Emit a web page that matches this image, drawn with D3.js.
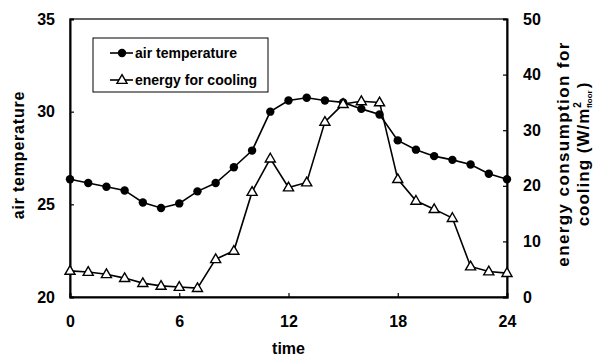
<!DOCTYPE html>
<html>
<head>
<meta charset="utf-8">
<script src="https://cdn.jsdelivr.net/npm/d3@7"></script>
<style>
  body { margin: 0; background: #fff; }
  svg { font-family: "Liberation Sans", Arial, sans-serif; }
</style>
</head>
<body>
<div id="chart"></div>
<script>
// hours 0..24
const hours = d3.range(0, 25);
const airTemp = [26.35, 26.15, 25.95, 25.75, 25.1, 24.8, 25.05, 25.7, 26.15, 27.0, 27.9, 30.0,
  30.6, 30.75, 30.6, 30.5, 30.15, 29.85, 28.45, 27.95, 27.6, 27.4, 27.15, 26.65, 26.35];
const coolEnergy = [4.7, 4.5, 4.1, 3.4, 2.5, 2.0, 1.8, 1.6, 6.8, 8.3, 18.9, 24.9,
  19.7, 20.6, 31.5, 34.7, 35.2, 35.0, 21.2, 17.3, 15.8, 14.2, 5.5, 4.6, 4.3];
const xTicks = [0, 6, 12, 18, 24];
const leftTicks = [20, 25, 30, 35];
const rightTicks = [0, 10, 20, 30, 40, 50];

const W = 600, H = 359;
const margin = { top: 19, right: 93, bottom: 62, left: 70 };
const width = W - margin.left - margin.right;
const height = H - margin.top - margin.bottom;

const svg = d3.select("#chart").append("svg")
  .attr("width", W).attr("height", H);
const g = svg.append("g")
  .attr("transform", "translate(" + margin.left + "," + margin.top + ")");

const x = d3.scaleLinear().domain([0, 24]).range([0, width]);
const yT = d3.scaleLinear().domain([20, 35]).range([height, 0]);
const yE = d3.scaleLinear().domain([0, 50]).range([height, 0]);

// frame
g.append("rect")
  .attr("width", width).attr("height", height)
  .attr("fill", "none").attr("stroke", "#000").attr("stroke-width", 1.2);

function styleAxis(sel) {
  sel.select(".domain").attr("stroke-width", 2);
  sel.selectAll(".tick line").attr("stroke-width", 1.2);
  sel.selectAll("text").attr("font-size", 16).attr("font-weight", "bold").attr("fill", "#000");
}

g.append("g")
  .call(d3.axisLeft(yT).tickValues(leftTicks).tickSize(-4).tickPadding(15))
  .call(styleAxis);

g.append("g")
  .attr("transform", "translate(" + width + ",0)")
  .call(d3.axisRight(yE).tickValues(rightTicks).tickSize(-4).tickPadding(16))
  .call(styleAxis);

g.append("g")
  .attr("transform", "translate(0," + height + ")")
  .call(d3.axisBottom(x).tickValues(xTicks).tickSize(-4).tickPadding(19))
  .call(styleAxis);

// axis titles
svg.append("text")
  .attr("transform", "translate(24,155) rotate(-90)")
  .attr("text-anchor", "middle")
  .attr("font-size", 16).attr("font-weight", "bold")
  .attr("letter-spacing", 0.8)
  .text("air temperature");

svg.append("text")
  .attr("transform", "translate(569,154) rotate(-90)")
  .attr("text-anchor", "middle")
  .attr("font-size", 17).attr("font-weight", "bold")
  .attr("letter-spacing", 1.4)
  .text("energy consumption for");

const t2 = svg.append("text")
  .attr("transform", "translate(589,154) rotate(-90)")
  .attr("text-anchor", "middle")
  .attr("font-size", 17).attr("font-weight", "bold")
  .attr("letter-spacing", 1);
t2.append("tspan").text("cooling (W/m");
t2.append("tspan").attr("font-size", 10).attr("dy", -8).text("2");
t2.append("tspan").attr("font-size", 8).attr("dy", 11).attr("dx", -7).attr("letter-spacing", 0).text("floor");
t2.append("tspan").attr("dy", -3).attr("dx", 2).text(")");

svg.append("text")
  .attr("x", margin.left + x(12)).attr("y", 354)
  .attr("text-anchor", "middle")
  .attr("font-size", 16).attr("font-weight", "bold")
  .text("time");

// lines
const lineT = d3.line().x((d, i) => x(hours[i])).y(d => yT(d));
const lineE = d3.line().x((d, i) => x(hours[i])).y(d => yE(d));

g.append("path").datum(airTemp)
  .attr("d", lineT).attr("fill", "none").attr("stroke", "#000").attr("stroke-width", 1.6);
g.append("path").datum(coolEnergy)
  .attr("d", lineE).attr("fill", "none").attr("stroke", "#000").attr("stroke-width", 1.6);

g.selectAll(".dotT").data(airTemp).enter().append("circle")
  .attr("cx", (d, i) => x(hours[i])).attr("cy", d => yT(d))
  .attr("r", 4.2).attr("fill", "#000");

const tri = d3.symbol().type(d3.symbolTriangle).size(44);
g.selectAll(".triE").data(coolEnergy).enter().append("path")
  .attr("d", tri)
  .attr("transform", (d, i) => "translate(" + x(hours[i]) + "," + (yE(d) + 0.5) + ")")
  .attr("fill", "#fff").attr("stroke", "#000").attr("stroke-width", 1.4);

// legend
const lg = svg.append("g");
lg.append("rect")
  .attr("x", 93).attr("y", 38).attr("width", 175).attr("height", 54)
  .attr("fill", "#fff").attr("stroke", "#000").attr("stroke-width", 1);
lg.append("line").attr("x1", 110).attr("x2", 133).attr("y1", 53).attr("y2", 53)
  .attr("stroke", "#000").attr("stroke-width", 1.6);
lg.append("circle").attr("cx", 122).attr("cy", 53).attr("r", 4.2).attr("fill", "#000");
lg.append("text").attr("x", 135).attr("y", 58)
  .attr("font-size", 14).attr("font-weight", "bold").text("air temperature");
lg.append("line").attr("x1", 110).attr("x2", 133).attr("y1", 80).attr("y2", 80)
  .attr("stroke", "#000").attr("stroke-width", 1.6);
lg.append("path").attr("d", tri)
  .attr("transform", "translate(122,80.5)")
  .attr("fill", "#fff").attr("stroke", "#000").attr("stroke-width", 1.4);
lg.append("text").attr("x", 135).attr("y", 85)
  .attr("font-size", 14).attr("font-weight", "bold").text("energy for cooling");
</script>
</body>
</html>
